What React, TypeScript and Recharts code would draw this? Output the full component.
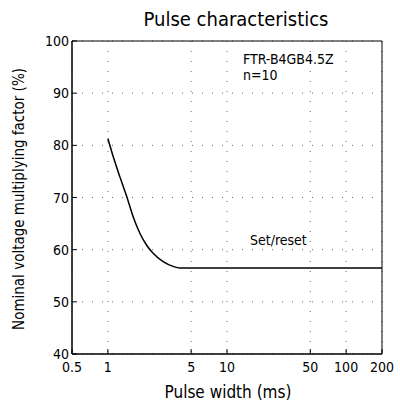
import React from "react";
import {
  LineChart,
  Line,
  XAxis,
  YAxis,
  CartesianGrid,
  ReferenceArea,
} from "recharts";

const pulseWidth = [1, 1.11, 1.26, 1.44, 1.63, 1.86, 2.11, 2.4, 2.91, 3.53, 4.02, 200];
const voltageFactor = [81.3, 77.8, 74, 70.2, 66.3, 63.1, 60.9, 59.3, 57.7, 56.8, 56.5, 56.5];
const xTicks = [0.5, 1, 5, 10, 50, 100, 200];
const yTicks = [40, 50, 60, 70, 80, 90, 100];

const data = pulseWidth.map((w, i) => ({ w, v: voltageFactor[i] }));

const FONT = "'DejaVu Sans Condensed', 'DejaVu Sans', sans-serif";

const XTick = (props: any) => {
  const { x, y, payload } = props;
  return (
    <g>
      <line x1={x} y1={y} x2={x} y2={y - 5} stroke="#000" />
      <text x={x} y={y + 18} textAnchor="middle" fontSize={14} fontFamily={FONT} fill="#000">
        {payload.value}
      </text>
    </g>
  );
};

const YTick = (props: any) => {
  const { x, y, payload } = props;
  return (
    <g>
      <line x1={x} y1={y} x2={x + 5} y2={y} stroke="#000" />
      <text x={x - 3} y={y + 5} textAnchor="end" fontSize={14} fontFamily={FONT} fill="#000">
        {payload.value}
      </text>
    </g>
  );
};

export default function App() {
  return (
    <div style={{ position: "absolute", left: 0, top: 0, width: 400, height: 409, background: "#fff" }}>
      <LineChart
        width={400}
        height={409}
        data={data}
        margin={{ top: 41, right: 18, bottom: 25, left: 0 }}
      >
        <CartesianGrid stroke="#666" strokeDasharray="1 9" />
        <XAxis
          dataKey="w"
          type="number"
          scale="log"
          domain={[0.5, 200]}
          ticks={xTicks}
          allowDataOverflow
          height={30}
          tickSize={0}
          tickMargin={0}
          tickLine={false}
          tick={XTick}
          stroke="#000"
          interval={0}
        />
        <YAxis
          type="number"
          domain={[40, 100]}
          ticks={yTicks}
          width={72}
          tickSize={0}
          tickMargin={0}
          tickLine={false}
          tick={YTick}
          stroke="#000"
          interval={0}
        />
        <ReferenceArea x1={0.5} x2={200} y1={40} y2={100} fill="none" stroke="#000" strokeWidth={1} />
        <Line
          dataKey="v"
          type="monotone"
          stroke="#000"
          strokeWidth={1.5}
          dot={false}
          isAnimationActive={false}
        />
      </LineChart>
      <svg
        width={400}
        height={409}
        style={{ position: "absolute", left: 0, top: 0, pointerEvents: "none" }}
      >
        <text x={236} y={26} textAnchor="middle" fontSize={20} fontFamily={FONT} fill="#000">
          Pulse characteristics
        </text>
        <text
          x={0}
          y={0}
          transform="translate(24,199) rotate(-90)"
          textAnchor="middle"
          fontSize={15}
          fontFamily={FONT}
          fill="#000"
        >
          Nominal voltage multiplying factor (%)
        </text>
        <text x={228} y={398} textAnchor="middle" fontSize={17} fontFamily={FONT} fill="#000">
          Pulse width (ms)
        </text>
        <text x={243} y={64} fontSize={14} fontFamily={FONT} fill="#000">
          FTR-B4GB4.5Z
        </text>
        <text x={243} y={80} fontSize={14} fontFamily={FONT} fill="#000">
          n=10
        </text>
        <text x={250} y={245} fontSize={14} fontFamily={FONT} fill="#000">
          Set/reset
        </text>
      </svg>
    </div>
  );
}
